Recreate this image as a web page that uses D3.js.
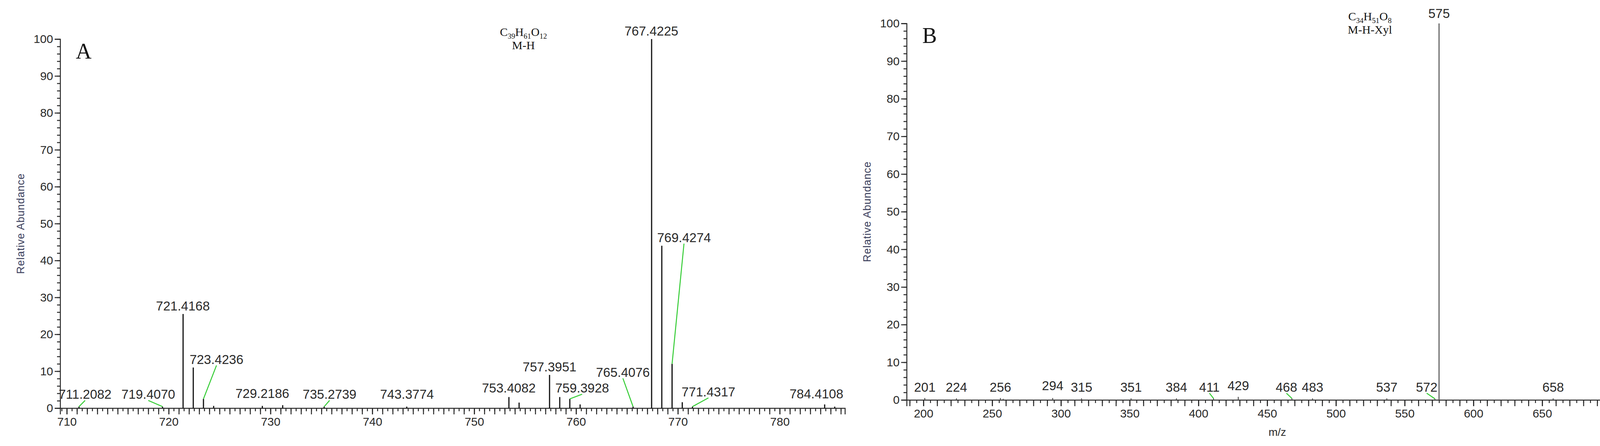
<!DOCTYPE html>
<html><head><meta charset="utf-8">
<script src="https://cdn.jsdelivr.net/npm/d3@7"></script>
<style>
body{margin:0;background:#fff}
text{font-family:"Liberation Sans Narrow","Arial Narrow","Liberation Sans",sans-serif}
.serif{font-family:"Liberation Serif","Times New Roman",serif}
</style></head><body>
<svg id="chart" width="4246" height="1142"></svg>
<script>
// Panel A peaks: [m/z, relative abundance]
const peaksA = [[711.2,0.4],[719.4,0.4],[721.42,25.5],[722.42,11],[723.42,2.5],[724.42,0.6],
  [729.2,0.6],[731.2,0.8],[735.27,0.4],[743.38,0.4],[753.41,3],[754.41,1.5],[757.4,9],
  [758.4,3],[759.39,2.5],[760.4,1],[765.6,0.4],[767.42,100],[768.42,44],[769.43,12],
  [770.43,1.6],[771.43,0.4],[784.41,1],[785.4,0.4]];
// Panel A labels: [text, label m/z, label abundance, peak m/z, peak abundance, leader?]
const labelsA = [["711.2082",711.8,2.5,711.2,0.4,true],["719.4070",718.0,2.5,719.4,0.4,true],
  ["721.4168",721.4,26.5,721.42,25.5,false],["723.4236",724.7,12,723.42,2.5,true],
  ["729.2186",729.2,2.8,729.2,0.6,false],["735.2739",735.8,2.5,735.27,0.4,true],
  ["743.3774",743.4,2.5,743.38,0.4,false],["753.4082",753.4,4.2,753.41,3,false],
  ["757.3951",757.4,10,757.4,9,false],["759.3928",760.6,4.2,759.39,2.5,true],
  ["765.4076",764.6,8.5,765.6,0.4,true],["767.4225",767.4,101,767.42,100,false],
  ["769.4274",770.6,45,769.43,12,true],["771.4317",773.0,3.2,771.43,0.4,true],
  ["784.4108",783.6,2.6,784.41,1,false]];
// Panel B peaks and labels
const peaksB = [[201,0.5],[224,0.4],[256,0.5],[258,0.3],[294,0.5],[315,0.4],[351,0.4],
  [384,0.4],[411,0.4],[429,0.8],[468,0.4],[483,0.4],[537,0.4],[572,0.3],[575,100],[658,0.4]];
const labelsB = [["201",201,2.2,201,0.5,false],["224",224,2.2,224,0.4,false],["256",256,2.2,256,0.5,false],
  ["294",294,2.6,294,0.5,false],["315",315,2.2,315,0.4,false],["351",351,2.2,351,0.4,false],
  ["384",384,2.2,384,0.4,false],["411",408,2.2,411,0.4,true],["429",429,2.6,429,0.8,false],
  ["468",464,2.2,468,0.4,true],["483",483,2.2,483,0.4,false],["537",537,2.2,537,0.4,false],
  ["572",566,2.2,572,0.3,true],["575",575,101.5,575,100,false],["658",658,2.2,658,0.4,false]];

const svg = d3.select("#chart");
const ink = "#2a2a2a";

function panel(o) {
  const x = d3.scaleLinear().domain(o.xdom).range(o.xr);
  const y = d3.scaleLinear().domain([0, 100]).range(o.yr);
  const g = svg.append("g");
  // minor ticks
  g.append("g").attr("transform", `translate(0,${o.yr[0]})`)
    .call(d3.axisBottom(x).tickValues(d3.range(Math.ceil(o.xdom[0]/o.minor)*o.minor, o.xdom[1], o.minor)).tickSize(8).tickFormat(""))
    .call(a => a.select(".domain").remove());
  g.append("g").attr("transform", `translate(0,${o.yr[0]})`)
    .call(d3.axisBottom(x).tickValues(d3.range(Math.ceil(o.xdom[0]/o.major)*o.major, o.xdom[1], o.major)).tickSize(16).tickFormat(""))
    .call(a => a.select(".domain").remove());
  const xa = g.append("g").attr("transform", `translate(0,${o.yr[0]})`)
    .call(d3.axisBottom(x).tickValues(o.xticks).tickSize(16).tickPadding(8).tickFormat(d3.format("d")));
  xa.selectAll("text").attr("font-size", 30).attr("fill", ink);
  xa.selectAll("line,path").attr("stroke", ink).attr("stroke-width", 2.5);
  g.selectAll("line").attr("stroke", ink).attr("stroke-width", 2.5);
  const ym = g.append("g").attr("transform", `translate(${o.xr[0]},0)`)
    .call(d3.axisLeft(y).tickValues(d3.range(0, 101, 2)).tickSize(8).tickFormat(""));
  ym.select(".domain").remove();
  ym.selectAll("line").attr("stroke", ink).attr("stroke-width", 2.5);
  const ya = g.append("g").attr("transform", `translate(${o.xr[0]},0)`)
    .call(d3.axisLeft(y).tickValues(d3.range(0, 101, 10)).tickSize(14).tickPadding(4));
  ya.selectAll("text").attr("font-size", 30).attr("fill", ink);
  ya.selectAll("line,path").attr("stroke", ink).attr("stroke-width", 2.5);
  g.append("text").attr("transform", `translate(${o.xr[0]-92},${(o.yr[0]+o.yr[1])/2}) rotate(-90)`)
    .attr("text-anchor", "middle").attr("font-size", 27).attr("fill", "#3b3f5c")
    .attr("font-family", "Liberation Sans, sans-serif").attr("letter-spacing", 1).text("Relative Abundance");
  if (o.xlabel) g.append("text").attr("x", (o.xr[0]+o.xr[1])/2).attr("y", o.yr[0]+92)
    .attr("text-anchor", "middle").attr("font-size", 28).attr("fill", ink).text(o.xlabel);
  // peaks
  g.selectAll(".peak").data(o.peaks).join("line").attr("class", "peak")
    .attr("x1", d => x(d[0])).attr("x2", d => x(d[0])).attr("y1", y(0)).attr("y2", d => y(d[1]))
    .attr("stroke", o.peakColor).attr("stroke-width", 3);
  // leaders + labels
  g.selectAll(".lead").data(o.labels.filter(d => d[5])).join("line").attr("class", "lead")
    .attr("x1", d => x(d[1])).attr("y1", d => y(d[2]) + 4).attr("x2", d => x(d[3])).attr("y2", d => y(d[4]))
    .attr("stroke", "#33cc33").attr("stroke-width", 2.5);
  g.selectAll(".lab").data(o.labels).join("text").attr("class", "lab")
    .attr("x", d => x(d[1])).attr("y", d => y(d[2])).attr("text-anchor", "middle")
    .attr("font-size", 33).attr("fill", ink).text(d => d[0]);
  // panel letter
  g.append("text").attr("class", "serif").attr("x", o.xr[0] + 40).attr("y", y(100) + 50)
    .attr("font-size", 56).attr("fill", "#111").text(o.letter);
  // formula
  const f = g.append("text").attr("class", "serif").attr("x", o.fx).attr("y", y(100) - 8)
    .attr("text-anchor", "middle").attr("font-size", 30).attr("fill", "#111");
  o.formula.forEach(([t, sub]) => f.append("tspan").attr("font-size", sub ? 19 : 30)
    .attr("dy", sub ? 7 : (f.selectAll("tspan").size() > 1 ? -7 : 0)).text(t));
  g.append("text").attr("class", "serif").attr("x", o.fx).attr("y", y(100) + 26)
    .attr("text-anchor", "middle").attr("font-size", 30).attr("fill", "#111").text(o.ion);
}

panel({xdom: [709.35, 786.4], xr: [154, 2163], yr: [1045, 100], minor: 0.5, major: 1,
  xticks: d3.range(710, 781, 10), peaks: peaksA, labels: labelsA, peakColor: "#111",
  letter: "A", fx: 1340, formula: [["C",0],["39",1],["H",0],["61",1],["O",0],["12",1]], ion: "M-H"});
panel({xdom: [187.8, 727], xr: [2321, 4219], yr: [1024, 60], minor: 5, major: 10,
  xticks: d3.range(200, 701, 50), peaks: peaksB, labels: labelsB, peakColor: "#666",
  letter: "B", xlabel: "m/z", fx: 3507, formula: [["C",0],["34",1],["H",0],["51",1],["O",0],["8",1]], ion: "M-H-Xyl"});
</script></body></html>
